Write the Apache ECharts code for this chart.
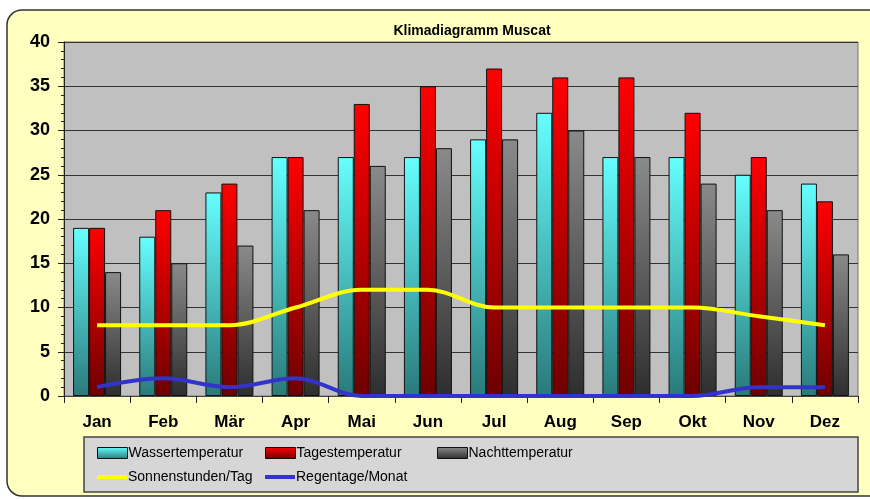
<!DOCTYPE html>
<html>
<head>
<meta charset="utf-8">
<script src="https://cdn.jsdelivr.net/npm/echarts@6/dist/echarts.min.js"></script>
<style>
  html, body { margin: 0; padding: 0; background: #fff; }
  #chart { width: 870px; height: 499px; }
</style>
</head>
<body>
<div id="chart"></div>
<script>
const months = ["Jan", "Feb", "Mär", "Apr", "Mai", "Jun", "Jul", "Aug", "Sep", "Okt", "Nov", "Dez"];
const wasser = [19, 18, 23, 27, 27, 27, 29, 32, 27, 27, 25, 24];
const tages = [19, 21, 24, 27, 33, 35, 37, 36, 36, 32, 27, 22];
const nacht = [14, 15, 17, 21, 26, 28, 29, 30, 27, 24, 21, 16];
const sonne = [8, 8, 8, 10, 12, 12, 10, 10, 10, 10, 9, 8];
const regen = [1, 2, 1, 2, 0, 0, 0, 0, 0, 0, 1, 1];

const font = '"Liberation Sans", Arial, sans-serif';

function grad(top, bottom) {
  return new echarts.graphic.LinearGradient(0, 0, 0, 1, [
    { offset: 0, color: top },
    { offset: 1, color: bottom }
  ]);
}

function barSeries(name, data, top, bottom) {
  return {
    name: name,
    type: "bar",
    data: data,
    barWidth: 16,
    barGap: "0%",
    itemStyle: { color: grad(top, bottom), borderColor: "#111", borderWidth: 1 }
  };
}

function lineSeries(name, data, color) {
  return {
    name: name,
    type: "line",
    data: data,
    smooth: 0.35,
    symbol: "none",
    lineStyle: { color: color, width: 4 },
    itemStyle: { color: color },
    z: 5
  };
}

// isBar: box icon with border, otherwise a thick line
function legendAt(name, left, top, isBar) {
  return {
    data: [{
      name: name,
      icon: "rect",
      itemStyle: isBar ? { borderColor: "#111", borderWidth: 1 } : { borderWidth: 0 }
    }],
    left: left,
    top: top,
    itemWidth: 30,
    itemHeight: isBar ? 11 : 4,
    itemGap: 0,
    padding: 0,
    textStyle: { fontFamily: font, fontSize: 14, color: "#000", padding: [0, 0, 0, -4] }
  };
}

const chart = echarts.init(document.getElementById("chart"));
chart.setOption({
  animation: false,
  backgroundColor: "#fff",
  graphic: [
    {
      type: "rect",
      shape: { x: 7, y: 10, width: 880, height: 486, r: 15 },
      style: { fill: "#FFFFC0", stroke: "#333", lineWidth: 1.5 },
      z: -10
    },
    {
      type: "rect",
      shape: { x: 84, y: 437, width: 774, height: 55 },
      style: { fill: "#D6D6D6", stroke: "#444", lineWidth: 1.5 },
      z: -5
    }
  ],
  title: {
    text: "Klimadiagramm Muscat",
    left: 467,
    top: 19,
    textAlign: "center",
    textStyle: { fontFamily: font, fontSize: 14, fontWeight: "bold", color: "#000" }
  },
  legend: [
    legendAt("Wassertemperatur", 97, 446, true),
    legendAt("Tagestemperatur", 265, 446, true),
    legendAt("Nachttemperatur", 437, 446, true),
    legendAt("Sonnenstunden/Tag", 97, 470, false),
    legendAt("Regentage/Monat", 265, 470, false)
  ],
  grid: {
    left: 64, right: 12, top: 42, bottom: 103,
    show: true,
    backgroundColor: "#C0C0C0",
    borderColor: "#777",
    borderWidth: 1
  },
  xAxis: {
    type: "category",
    data: months,
    axisLine: { lineStyle: { color: "#444", width: 1 } },
    axisTick: { show: true, length: 7, lineStyle: { color: "#222" } },
    axisLabel: { margin: 18, fontFamily: font, fontSize: 17, fontWeight: "bold", color: "#000" }
  },
  yAxis: {
    type: "value",
    min: 0, max: 40, interval: 5,
    axisLine: { show: true, lineStyle: { color: "#222" } },
    axisTick: { show: true, length: 6, lineStyle: { color: "#222" } },
    minorTick: { show: true, splitNumber: 5, length: 3, lineStyle: { color: "#222" } },
    splitLine: { show: true, lineStyle: { color: "#333", width: 1.2 } },
    axisLabel: { margin: 14, fontFamily: font, fontSize: 18, fontWeight: "bold", color: "#000" }
  },
  series: [
    barSeries("Wassertemperatur", wasser, "#66FFFF", "#2A7A7A"),
    barSeries("Tagestemperatur", tages, "#FF0000", "#6E0000"),
    barSeries("Nachttemperatur", nacht, "#8A8A8A", "#2E2E2E"),
    lineSeries("Sonnenstunden/Tag", sonne, "#FFFF00"),
    lineSeries("Regentage/Monat", regen, "#3333CC")
  ]
});
</script>
</body>
</html>
